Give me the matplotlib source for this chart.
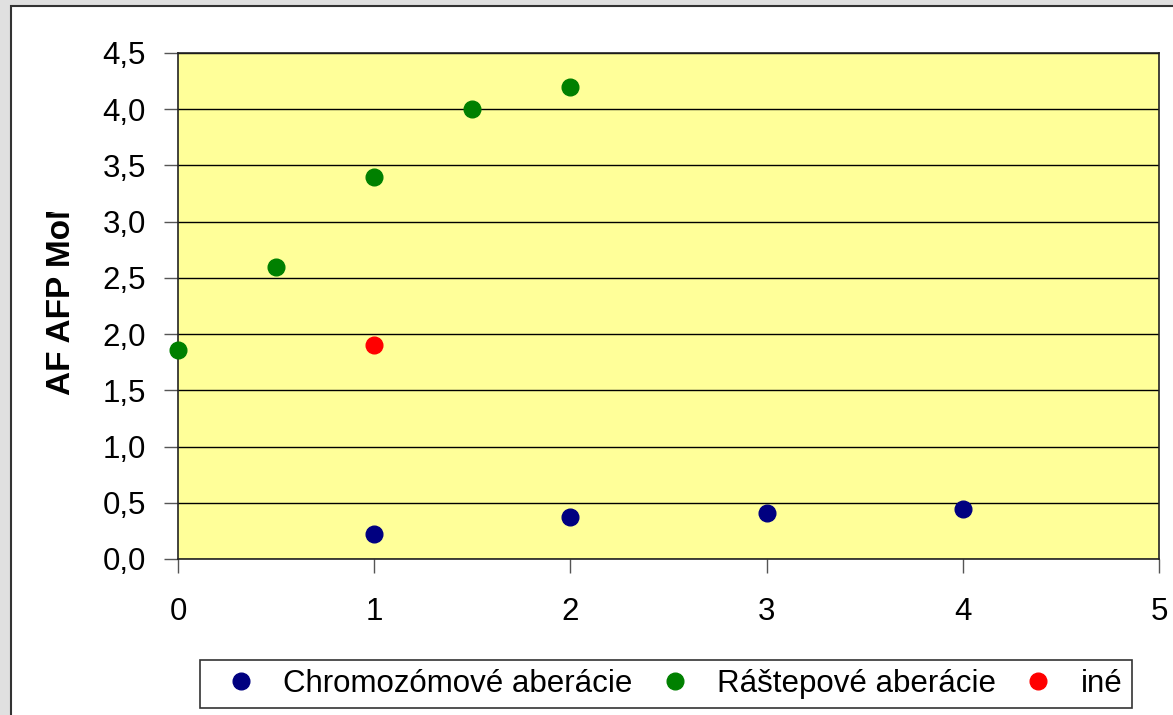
import matplotlib.pyplot as plt
from matplotlib.patches import Rectangle
from matplotlib.transforms import Bbox, TransformedBbox

plt.rcParams["font.family"] = ["Liberation Sans", "DejaVu Sans"]

# data
chromo_x = [1, 2, 3, 4]
chromo_y = [0.22, 0.37, 0.41, 0.445]
rast_x = [0, 0.5, 1, 1.5, 2]
rast_y = [1.86, 2.6, 3.4, 4.0, 4.2]
ine_x = [1]
ine_y = [1.9]

series_labels = ["Chromozómové aberácie", "Ráštepové aberácie", "iné"]
series_colors = ["#000080", "#008000", "#ff0000"]

y_ticks = [0, 0.5, 1.0, 1.5, 2.0, 2.5, 3.0, 3.5, 4.0, 4.5]
x_ticks = [0, 1, 2, 3, 4, 5]

W, H = 1173, 715
FS = 22.5
fig = plt.figure(figsize=(W / 100, H / 100), dpi=100)
fig.patch.set_facecolor("#e0e0e0")

# white chart area with dark border (runs off the right and bottom edges)
fig.patches.append(
    Rectangle((11 / W, -0.05), 1.2, 1 - 6 / H + 0.05, transform=fig.transFigure,
              facecolor="white", edgecolor="#333333", linewidth=1.5, zorder=-5)
)

ax = fig.add_axes([178 / W, 1 - 559 / H, (1159 - 178) / W, (559 - 53) / H])
ax.set_zorder(1)
ax.set_facecolor("#ffff99")
ax.set_xlim(0, 5)
ax.set_ylim(0, 4.5)
ax.set_yticks(y_ticks)
ax.set_yticklabels([f"{v:.1f}".replace(".", ",") for v in y_ticks], fontsize=FS)
ax.set_xticks(x_ticks)
ax.set_xticklabels([str(v) for v in x_ticks], fontsize=FS)
ax.tick_params(axis="y", length=10, width=1, color="#555555", pad=13)
ax.tick_params(axis="x", length=10, width=1, color="#555555", pad=17)
ax.yaxis.grid(True, color="black", linewidth=1)
ax.set_axisbelow(True)
for s in ax.spines.values():
    s.set_color("#222222")
    s.set_linewidth(1.2)

ms = 12
ax.plot(chromo_x, chromo_y, "o", color=series_colors[0], markersize=ms,
        label=series_labels[0], clip_on=False, zorder=3)
ax.plot(rast_x, rast_y, "o", color=series_colors[1], markersize=ms,
        label=series_labels[1], clip_on=False, zorder=3)
ax.plot(ine_x, ine_y, "o", color=series_colors[2], markersize=ms,
        label=series_labels[2], clip_on=False, zorder=3)

# y label, truncated at the top as in the original
ylab = fig.text(62 / W, 1 - 395 / H, "AF AFP MoM", rotation=90, fontsize=24,
                fontweight="bold", ha="center", va="bottom", clip_on=True)
ylab.set_clip_box(TransformedBbox(Bbox([[0, 0], [1, 1 - 212 / H]]),
                                  fig.transFigure))

leg = ax.legend(loc="center", bbox_to_anchor=(666 / W, 1 - 684 / H),
                bbox_transform=fig.transFigure, ncol=3,
                fontsize=FS, frameon=True, fancybox=False, edgecolor="#333333",
                framealpha=1, handlelength=2.0, handletextpad=0.35,
                columnspacing=0.35, borderpad=0.3, borderaxespad=0)
leg.get_frame().set_linewidth(1.2)

fig.savefig("out.png", dpi=100, facecolor=fig.get_facecolor())
